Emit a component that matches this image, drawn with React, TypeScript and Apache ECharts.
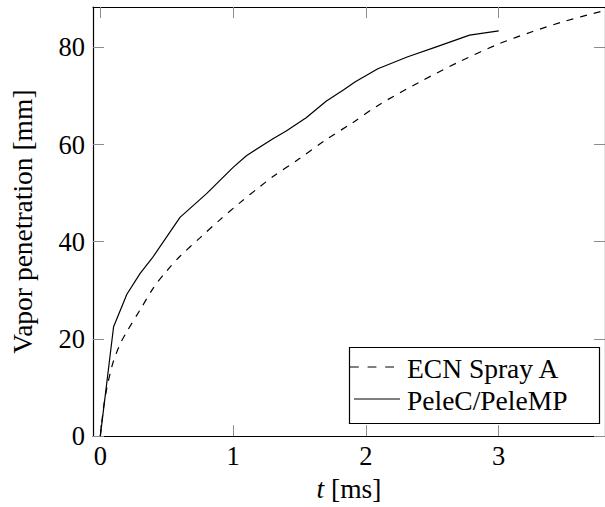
import { useEffect, useRef } from "react";
import * as echarts from "echarts";

// ECN Spray A reference vapor penetration (dashed)
const ecnTime = [0, 0.025, 0.05, 0.075, 0.1, 0.15, 0.2, 0.3, 0.4, 0.5, 0.6, 0.75, 0.9, 1.05, 1.2, 1.3, 1.5, 1.7, 1.9, 2.1, 2.4, 2.7, 3.0, 3.25, 3.5, 3.8];
const ecnPen = [0, 6, 10, 13, 15.5, 19, 21.5, 26, 30.5, 34, 37, 40.8, 44.5, 48, 51.3, 53.4, 57.1, 61, 64.5, 68.2, 72.8, 77, 80.7, 83.2, 85.4, 87.6];

// PeleC/PeleMP simulation (solid)
const peleTime = [0, 0.1, 0.2, 0.3, 0.39, 0.6, 0.8, 1.0, 1.1, 1.3, 1.4, 1.55, 1.7, 1.83, 1.92, 2.09, 2.31, 2.53, 2.78, 3.0];
const pelePen = [0, 22.5, 29.2, 33.5, 36.6, 45, 49.9, 55.3, 57.7, 61.2, 62.8, 65.5, 68.9, 71.2, 72.9, 75.6, 78.0, 80.1, 82.5, 83.4];

const xTicks = [0, 1, 2, 3];
const yTicks = [0, 20, 40, 60, 80];

const legendNames = ["ECN Spray A", "PeleC/PeleMP"];

const FONT = "'Liberation Serif', 'Times New Roman', serif";
const TICK_COLOR = "#8c8c8c";
const DASH = [7, 7];

const zip = (xs: number[], ys: number[]) => xs.map((x, i) => [x, ys[i]]);

export default function App() {
  const ref = useRef<HTMLDivElement>(null);

  useEffect(() => {
    if (!ref.current) return;
    const chart = echarts.init(ref.current, undefined, { renderer: "svg" });

    const baseAxis = (ticks: number[], showLabels: boolean, margin = 8) => ({
      type: "value" as const,
      axisLine: { show: true, onZero: false, lineStyle: { color: "#000", width: 1.2 } },
      axisTick: {
        show: true,
        inside: true,
        length: 11,
        customValues: ticks,
        lineStyle: { color: TICK_COLOR, width: 1 },
      },
      axisLabel: {
        show: showLabels,
        customValues: ticks,
        margin,
        fontFamily: FONT,
        fontSize: 26.5,
        color: "#000",
      },
      splitLine: { show: false },
    });

    // legend box drawn by hand: dashed / solid samples with labels
    const legendRows = [
      { y: 367, x1: 350, dash: [8.8, 8.8] as number[] | null },
      { y: 399, x1: 354, dash: null },
    ];
    const legendGraphics: any[] = [
      {
        type: "rect",
        z: 10,
        shape: { x: 349.5, y: 347.5, width: 250, height: 76 },
        style: { fill: "#fff", stroke: "#000", lineWidth: 1.2 },
      },
    ];
    legendRows.forEach((row, i) => {
      legendGraphics.push({
        type: "line",
        z: 11,
        shape: { x1: row.x1, y1: row.y, x2: 400, y2: row.y },
        style: { stroke: "#000", lineWidth: 1.2, lineDash: row.dash ?? undefined },
      });
      legendGraphics.push({
        type: "text",
        z: 11,
        x: 407,
        y: row.y + 1,
        style: {
          text: legendNames[i],
          fontFamily: FONT,
          fontSize: 27.5,
          fill: "#000",
          verticalAlign: "middle",
          align: "left",
        },
      });
    });

    chart.setOption({
      animation: false,
      backgroundColor: "#fff",
      grid: { left: 93, right: -4, top: 7, bottom: 70, containLabel: false },
      xAxis: [
        {
          ...baseAxis(xTicks, true, 6),
          position: "bottom",
          min: -0.055,
          max: 3.8,
          name: "{it|t}{rm| [ms]}",
          nameLocation: "middle",
          nameGap: 36,
          nameTextStyle: {
            rich: {
              it: { fontFamily: FONT, fontSize: 27.5, fontStyle: "italic", color: "#000" },
              rm: { fontFamily: FONT, fontSize: 27.5, color: "#000", whiteSpace: "pre" },
            },
          },
        },
        {
          ...baseAxis(xTicks, false),
          position: "top",
          min: -0.055,
          max: 3.8,
        },
      ],
      yAxis: [
        {
          ...baseAxis(yTicks, true, 8),
          position: "left",
          min: 0,
          max: 88.3,
          name: "Vapor penetration [mm]",
          nameLocation: "middle",
          nameGap: 57,
          nameTextStyle: { fontFamily: FONT, fontSize: 27.5, color: "#000" },
        },
        {
          ...baseAxis(yTicks, false),
          position: "right",
          min: 0,
          max: 88.3,
        },
      ],
      graphic: legendGraphics,
      series: [
        {
          name: legendNames[0],
          type: "line",
          data: zip(ecnTime, ecnPen),
          smooth: 0.3,
          symbol: "none",
          lineStyle: { color: "#000", width: 1.2, type: DASH },
        },
        {
          name: legendNames[1],
          type: "line",
          data: zip(peleTime, pelePen),
          symbol: "none",
          lineStyle: { color: "#000", width: 1.2, type: "solid" },
        },
      ],
    });

    return () => chart.dispose();
  }, []);

  return (
    <div
      ref={ref}
      style={{ position: "absolute", left: 0, top: 0, width: 605, height: 507 }}
    />
  );
}
